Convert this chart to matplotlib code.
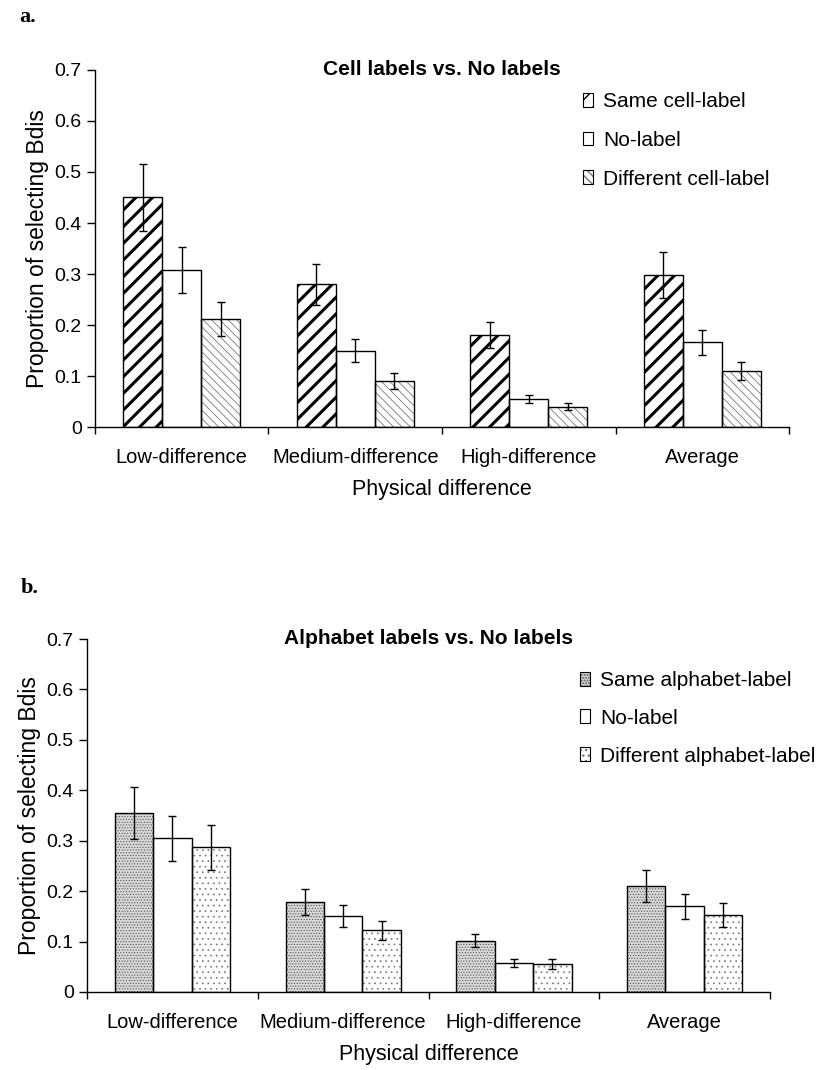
import numpy as np
import matplotlib
matplotlib.use('Agg')
import matplotlib.pyplot as plt

categories = ['Low-difference', 'Medium-difference', 'High-difference', 'Average']

# panel a: cell labels
cell_same = [0.45, 0.28, 0.18, 0.298]
cell_same_err = [0.065, 0.04, 0.025, 0.045]
cell_none = [0.307, 0.15, 0.055, 0.166]
cell_none_err = [0.045, 0.022, 0.008, 0.024]
cell_diff = [0.212, 0.09, 0.04, 0.11]
cell_diff_err = [0.033, 0.015, 0.007, 0.018]

# panel b: alphabet labels
alpha_same = [0.355, 0.178, 0.102, 0.21]
alpha_same_err = [0.052, 0.026, 0.013, 0.031]
alpha_none = [0.305, 0.15, 0.057, 0.17]
alpha_none_err = [0.045, 0.022, 0.008, 0.025]
alpha_diff = [0.287, 0.122, 0.056, 0.152]
alpha_diff_err = [0.045, 0.019, 0.01, 0.024]

yticks = [0, 0.1, 0.2, 0.3, 0.4, 0.5, 0.6, 0.7]
ytick_labels = ['0', '0.1', '0.2', '0.3', '0.4', '0.5', '0.6', '0.7']

plt.rcParams['font.family'] = ['Liberation Sans', 'DejaVu Sans']
plt.rcParams['hatch.linewidth'] = 1.0

fig = plt.figure(figsize=(8.23, 10.7), dpi=100)


def hatched_bars(ax, x, h, w, hatch, hcolor, face='white', hlw=1.0):
    bars = ax.bar(x, h, w, color=face, edgecolor=hcolor, hatch=hatch, linewidth=0, zorder=2)
    for b in bars:
        if hasattr(b, 'set_hatch_linewidth'):
            b.set_hatch_linewidth(hlw)
    ax.bar(x, h, w, color='none', edgecolor='black', linewidth=1.0, zorder=3)
    return bars


def panel(ax, same, same_err, none, none_err, diff, diff_err, styles, title):
    x = np.arange(len(categories))
    w = 0.225
    handles = []
    for k, (vals, errs, st) in enumerate(zip([same, none, diff], [same_err, none_err, diff_err], styles)):
        pos = x + (k - 1) * w
        hatched_bars(ax, pos, vals, w, st['hatch'], st['hcolor'], st['face'], st['hlw'])
        ax.errorbar(pos, vals, yerr=errs, fmt='none', ecolor='black', elinewidth=1.0,
                    capsize=3, capthick=1.0, zorder=4)
        p = plt.Rectangle((0, 0), 1, 1, facecolor=st['face'], edgecolor=st['hcolor'], hatch=st['hatch'],
                          linewidth=0)
        if hasattr(p, 'set_hatch_linewidth'):
            p.set_hatch_linewidth(st['hlw'])
        q = plt.Rectangle((0, 0), 1, 1, facecolor='none', edgecolor='black', linewidth=0.8)
        handles.append((p, q))
    ax.set_xlim(-0.5, len(categories) - 0.5)
    ax.set_ylim(0, 0.7)
    ax.set_yticks(yticks)
    ax.set_yticklabels(ytick_labels, fontsize=14)
    ax.set_xticks(x)
    ax.set_xticklabels(categories, fontsize=14.5)
    ax.set_xticks(np.arange(len(categories) + 1) - 0.5, minor=True)
    ax.tick_params(axis='x', which='major', length=0, pad=15)
    ax.tick_params(axis='x', which='minor', length=5, direction='out', width=1)
    ax.tick_params(axis='y', length=5.5, direction='out', width=1, pad=4)
    for s in ['top', 'right']:
        ax.spines[s].set_visible(False)
    ax.spines['left'].set_linewidth(1)
    ax.spines['bottom'].set_linewidth(1)
    ax.set_ylabel('Proportion of selecting Bdis', fontsize=16.5, labelpad=4)
    ax.set_xlabel('Physical difference', fontsize=15.5, labelpad=9)
    ax.set_title(title, fontsize=15, fontweight='bold', x=0.5, y=0.985, pad=0)
    return handles


cell_styles = [
    dict(hatch='//', hcolor='black', face='white', hlw=2.2),
    dict(hatch='', hcolor='black', face='white', hlw=1.0),
    dict(hatch='\\\\\\\\', hcolor='#777777', face='white', hlw=0.6),
]
alpha_styles = [
    dict(hatch='......', hcolor='#555555', face='#d8d8d8', hlw=0.5),
    dict(hatch='', hcolor='black', face='white', hlw=1.0),
    dict(hatch='...', hcolor='#777777', face='white', hlw=0.5),
]

ax1 = fig.add_axes([0.1154, 0.6009, 0.8433, 0.3337])
h1 = panel(ax1, cell_same, cell_same_err, cell_none, cell_none_err, cell_diff, cell_diff_err,
           cell_styles, 'Cell labels vs. No labels')
ax1.legend(h1, ['Same cell-label', 'No-label', 'Different cell-label'], frameon=False,
           loc='upper left', bbox_to_anchor=(583 / 823, 1 - 92 / 1070), bbox_transform=fig.transFigure,
           fontsize=15, handlelength=0.5, handleheight=0.65, handletextpad=0.45, labelspacing=0.95,
           borderpad=0, borderaxespad=0)

ax2 = fig.add_axes([0.1057, 0.0729, 0.83, 0.3299])
h2 = panel(ax2, alpha_same, alpha_same_err, alpha_none, alpha_none_err, alpha_diff, alpha_diff_err,
           alpha_styles, 'Alphabet labels vs. No labels')
ax2.legend(h2, ['Same alphabet-label', 'No-label', 'Different alphabet-label'], frameon=False,
           loc='upper left', bbox_to_anchor=(580 / 823, 1 - 671 / 1070), bbox_transform=fig.transFigure,
           fontsize=15, handlelength=0.5, handleheight=0.65, handletextpad=0.45, labelspacing=0.9,
           borderpad=0, borderaxespad=0)

fig.text(19 / 823, 1 - 17 / 1070, 'a.', family='Liberation Serif', fontweight='bold', fontsize=16,
         ha='left', va='center')
fig.text(21 / 823, 1 - 588 / 1070, 'b.', family='Liberation Serif', fontweight='bold', fontsize=16,
         ha='left', va='center')

plt.savefig('out.png', dpi=100)
